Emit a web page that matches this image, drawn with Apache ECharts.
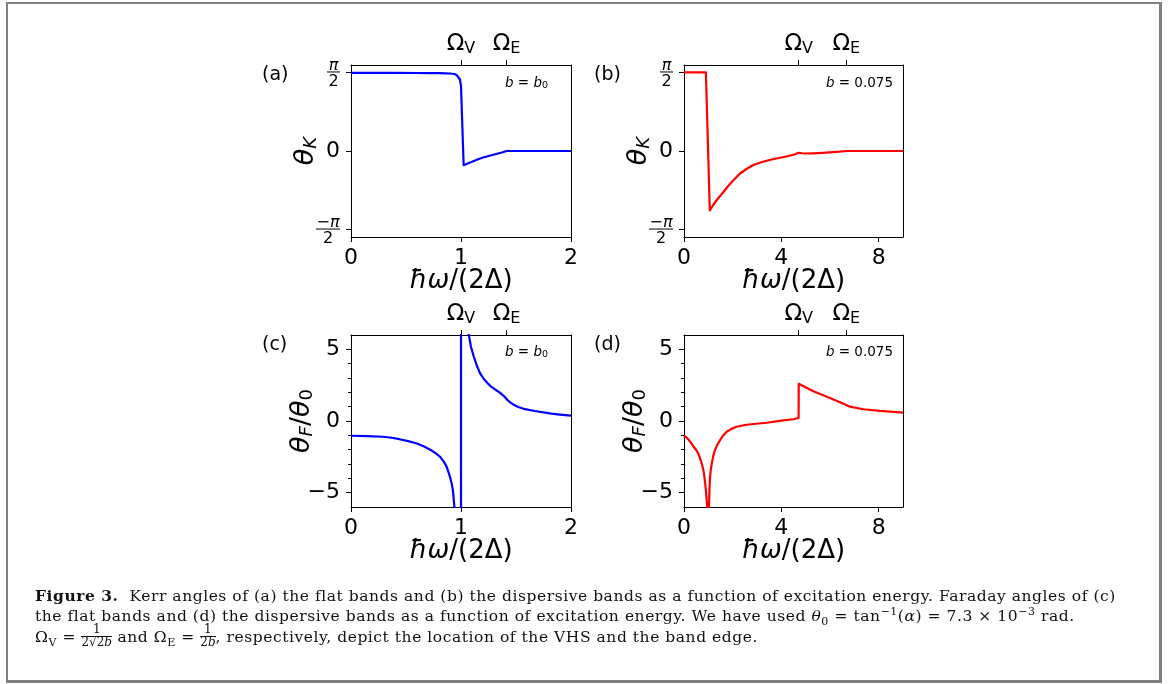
<!DOCTYPE html>
<html>
<head>
<meta charset="utf-8">
<script src="https://cdn.jsdelivr.net/npm/echarts@6/dist/echarts.min.js"></script>
<style>
  html, body { margin: 0; padding: 0; background: #fff; }
  #wrap { position: relative; width: 1174px; height: 684px; overflow: hidden; }
  #chart { position: absolute; left: 0; top: 0; width: 1174px; height: 684px; }
  #frame { position: absolute; left: 6px; top: 2px; width: 1151px; height: 676px;
           border-style: solid; border-color: #808080; border-width: 2px 3px 3px 2px; }
  .cap { position: absolute; left: 35px; white-space: nowrap; color: #111;
         font-family: 'DejaVu Serif', serif; font-size: 15.5px; letter-spacing: 0.55px; line-height: 20px; }
  .frac { display: inline-block; vertical-align: -4px; text-align: center; font-size: 12px; line-height: 11px; letter-spacing: 0; }
  .frac .num { display: block; border-bottom: 1px solid #111; padding: 0 1px 1px; }
  .frac .den { display: block; }
  sub, sup { font-size: 11px; line-height: 0; }
</style>
</head>
<body>
<div id="wrap">
  <div id="chart"></div>
  <div id="frame"></div>
  <div class="cap" style="top:586px"><b>Figure 3.</b>&nbsp;&nbsp;Kerr angles of (a) the flat bands and (b) the dispersive bands as a function of excitation energy. Faraday angles of (c)</div>
  <div class="cap" style="top:606px">the flat bands and (d) the dispersive bands as a function of excitation energy. We have used <i>θ</i><sub>0</sub> = tan<sup>−1</sup>(<i>α</i>) = 7.3 × 10<sup>−3</sup> rad.</div>
  <div class="cap" style="top:624px">Ω<sub>V</sub> = <span class="frac"><span class="num">1</span><span class="den">2√2<i>b</i></span></span> and Ω<sub>E</sub> = <span class="frac"><span class="num">1</span><span class="den">2<i>b</i></span></span>, respectively, depict the location of the VHS and the band edge.</div>
</div>
<script>
const FONT = 'DejaVu Sans';
const HALF_PI = Math.PI / 2;

// (a) Kerr angle, flat bands, b = b0
const aX = [0, 0.2, 0.4, 0.6, 0.7, 0.8, 0.86, 0.9, 0.94, 0.96, 0.975, 0.99, 1.0, 1.024, 1.06, 1.1, 1.15, 1.2, 1.26, 1.32, 1.38, 1.414, 1.6, 1.8, 2.0];
const aY = [1.562, 1.562, 1.561, 1.56, 1.559, 1.557, 1.554, 1.55, 1.54, 1.522, 1.49, 1.43, 1.3, -0.283, -0.25, -0.215, -0.17, -0.13, -0.095, -0.06, -0.025, 0, 0, 0, 0];

// (b) Kerr angle, dispersive bands, b = 0.075
const bX = [0, 0.5, 0.9, 0.975, 1.06, 1.1, 1.2, 1.3, 1.45, 1.62, 1.8, 2.0, 2.3, 2.6, 2.85, 3.2, 3.6, 4.0, 4.3, 4.6, 4.7, 4.73, 4.78, 4.85, 5.0, 5.3, 5.7, 6.1, 6.4, 6.67, 7.5, 9];
const bY = [1.5708, 1.5708, 1.5708, 1.5708, -1.19, -1.15, -1.08, -1.01, -0.92, -0.82, -0.71, -0.6, -0.45, -0.35, -0.28, -0.22, -0.17, -0.13, -0.1, -0.06, -0.035, -0.005, -0.03, -0.045, -0.05, -0.046, -0.037, -0.024, -0.013, 0, 0, 0];

// (c) Faraday angle, flat bands
const cX = [0, 0.15, 0.29, 0.37, 0.44, 0.52, 0.6, 0.66, 0.72, 0.77, 0.81, 0.845, 0.87, 0.9, 0.915, 0.927, 0.94, 0.96, 0.98, 1.0,
            1.0, 1.02, 1.05, 1.07, 1.09, 1.116, 1.147, 1.175, 1.208, 1.24, 1.27, 1.31, 1.35, 1.39, 1.42, 1.45, 1.48, 1.52, 1.57, 1.67, 1.75, 1.82, 1.9, 2.0];
const cY = [-1.03, -1.05, -1.1, -1.17, -1.27, -1.4, -1.57, -1.76, -2.0, -2.25, -2.5, -2.85, -3.2, -3.9, -4.35, -4.86, -6.0, -9, -20, -500,
            500, 30, 10, 6.06, 5.2, 4.5, 3.8, 3.3, 2.93, 2.65, 2.42, 2.2, 2.0, 1.74, 1.48, 1.28, 1.13, 0.98, 0.85, 0.7, 0.6, 0.52, 0.45, 0.37];

// (d) Faraday angle, dispersive bands
const dX = [0, 0.1, 0.2, 0.3, 0.38, 0.5, 0.59, 0.66, 0.73, 0.8, 0.84, 0.87, 0.9, 0.93, 0.96, 1.0,
            1.03, 1.05, 1.07, 1.1, 1.14, 1.2, 1.27, 1.37, 1.48, 1.6, 1.75, 1.95, 2.16, 2.5, 2.85, 3.4, 4.0, 4.49, 4.71,
            4.715, 5.32, 6.0, 6.55, 6.82, 7.37, 8.05, 9.0];
const dY = [-1.03, -1.15, -1.33, -1.55, -1.76, -2.02, -2.28, -2.6, -2.98, -3.45, -3.92, -4.35, -4.86, -5.45, -6.08, -40,
            -5.8, -4.6, -3.92, -3.4, -2.98, -2.45, -2.04, -1.65, -1.34, -1.03, -0.75, -0.55, -0.4, -0.28, -0.21, -0.12, 0.03, 0.12, 0.21,
            2.6, 2.07, 1.6, 1.2, 1.0, 0.82, 0.7, 0.58];

// ticks
const xTicksFlat = [0, 1, 2];
const xTicksDisp = [0, 4, 8];
const kerrTicks = [-HALF_PI, 0, HALF_PI];
const faradayTicks = [-5, 0, 5];
const faradayMinor = [-4, -3, -2, -1, 1, 2, 3, 4];
const omegaFlat = [1, Math.SQRT2];                                 // Ω_V, Ω_E at b = b0
const omegaDisp = [1 / (2 * Math.SQRT2 * 0.075), 1 / (2 * 0.075)]; // b = 0.075

const black = '#000';
const axisLine = { show: true, onZero: false, lineStyle: { color: black, width: 1 } };

const xNameRich = {
  it: { fontFamily: FONT, fontStyle: 'italic', fontSize: 26, color: black },
  rm: { fontFamily: FONT, fontSize: 26, color: black }
};
const yNameRich = {
  it: { fontFamily: FONT, fontStyle: 'italic', fontSize: 27, color: black },
  rm: { fontFamily: FONT, fontSize: 27, color: black },
  si: { fontFamily: FONT, fontStyle: 'italic', fontSize: 18, color: black, padding: [11, 0, 0, 0] },
  sr: { fontFamily: FONT, fontSize: 18, color: black, padding: [11, 0, 0, 0] }
};

const grid = [], xAxis = [], yAxis = [], series = [];

function addPanel(box, p) {
  const g = grid.length;
  grid.push(Object.assign({ outerBoundsMode: 'none', containLabel: false }, box));
  const xi = xAxis.length;
  xAxis.push({
    type: 'value', gridIndex: g, position: 'bottom', min: 0, max: p.xMax,
    axisLine, splitLine: { show: false },
    axisTick: { show: true, length: 5, customValues: p.xTicks, lineStyle: { color: black } },
    axisLabel: { customValues: p.xTicks, fontFamily: FONT, fontSize: 22, color: black, margin: 10 },
    name: '{it|ħω}{rm|/(2Δ)}', nameLocation: 'middle', nameGap: 31, nameMoveOverlap: false,
    nameTextStyle: { rich: xNameRich }
  });
  xAxis.push({
    type: 'value', gridIndex: g, position: 'top', min: 0, max: p.xMax,
    axisLine, splitLine: { show: false },
    axisTick: { show: true, length: 5, customValues: p.omegas, lineStyle: { color: black } },
    axisLabel: {
      customValues: p.omegas, margin: 8,
      formatter: v => Math.abs(v - p.omegas[0]) < 1e-6 ? '{o|Ω}{s|V}' : '{o|Ω}{s|E}',
      rich: {
        o: { fontFamily: FONT, fontSize: 23, color: black },
        s: { fontFamily: FONT, fontSize: 16, color: black, padding: [10, 0, 0, 0] }
      }
    }
  });
  const yi = yAxis.length;
  const kerr = p.kind === 'kerr';
  yAxis.push({
    type: 'value', gridIndex: g, position: 'left', min: p.yMin, max: p.yMax,
    axisLine, splitLine: { show: false },
    axisTick: { show: true, length: 5, customValues: p.yTicks, lineStyle: { color: black } },
    axisLabel: {
      customValues: p.yTicks, margin: 11, fontFamily: FONT, fontSize: 22, color: black,
      formatter: kerr
        ? v => v > 0.1 ? '{n|π}\n{bar| }\n{d|2}' : (v < -0.1 ? '{n|−π}\n{bar2| }\n{d|2}' : '0')
        : v => (v < 0 ? '−' + (-v) : String(v)),
      rich: {
        n: { fontFamily: FONT, fontStyle: 'italic', fontSize: 16, color: black, align: 'center', lineHeight: 15, padding: [7, 0, 0, 0] },
        d: { fontFamily: FONT, fontSize: 16, color: black, align: 'center', lineHeight: 16 },
        bar: { width: 13, height: 1, lineHeight: 4, backgroundColor: black, align: 'center', fontSize: 1 },
        bar2: { width: 24, height: 1, lineHeight: 4, backgroundColor: black, align: 'center', fontSize: 1 }
      }
    },
    name: kerr ? '{it|θ}{si|K}' : '{it|θ}{si|F}{rm|/}{it|θ}{sr|0}',
    nameLocation: 'middle', nameGap: kerr ? 31 : 35, nameMoveOverlap: false,
    nameTextStyle: { rich: yNameRich }
  });
  if (p.yMinor) {
    yAxis.push({
      type: 'value', gridIndex: g, position: 'left', min: p.yMin, max: p.yMax,
      axisLine: { show: false, onZero: false }, splitLine: { show: false },
      axisTick: { show: true, length: 3, customValues: p.yMinor, lineStyle: { color: black } },
      axisLabel: { show: false }
    });
  }
  yAxis.push({
    type: 'value', gridIndex: g, position: 'right', min: p.yMin, max: p.yMax,
    axisLine, splitLine: { show: false }, axisTick: { show: false }, axisLabel: { show: false }
  });
  series.push({
    type: 'line', xAxisIndex: xi, yAxisIndex: yi, clip: true,
    showSymbol: false, symbol: 'none', smooth: false,
    lineStyle: { color: p.color, width: 2.2, join: 'round' },
    data: p.xs.map((x, i) => [x, p.ys[i]])
  });
}

const kerrRange = { yMin: -1.72, yMax: 1.72, yTicks: kerrTicks, kind: 'kerr' };
const farRange = { yMin: -6, yMax: 6, yTicks: faradayTicks, yMinor: faradayMinor, kind: 'faraday' };

addPanel({ left: 351, top: 65, width: 220, height: 172 },
  Object.assign({ xs: aX, ys: aY, color: '#0000ff', xMax: 2, xTicks: xTicksFlat, omegas: omegaFlat }, kerrRange));
addPanel({ left: 684, top: 65, width: 219, height: 172 },
  Object.assign({ xs: bX, ys: bY, color: '#ff0000', xMax: 9, xTicks: xTicksDisp, omegas: omegaDisp }, kerrRange));
addPanel({ left: 351, top: 335, width: 220, height: 172 },
  Object.assign({ xs: cX, ys: cY, color: '#0000ff', xMax: 2, xTicks: xTicksFlat, omegas: omegaFlat }, farRange));
addPanel({ left: 684, top: 335, width: 219, height: 172 },
  Object.assign({ xs: dX, ys: dY, color: '#ff0000', xMax: 9, xTicks: xTicksDisp, omegas: omegaDisp }, farRange));

const annRich = {
  i: { fontFamily: FONT, fontStyle: 'italic', fontSize: 13.5, fill: black },
  r: { fontFamily: FONT, fontSize: 13.5, fill: black },
  s: { fontFamily: FONT, fontSize: 9.5, fill: black, padding: [6, 0, 0, 0] }
};
function txt(x, y, text, align, rich, size) {
  return {
    type: 'text', x, y, silent: true,
    style: { text, align, verticalAlign: 'middle', fontFamily: FONT, fontSize: size || 13.5, fill: black, rich }
  };
}

const graphic = [
  txt(262, 75, '(a)', 'left', null, 19),
  txt(594, 75, '(b)', 'left', null, 19),
  txt(262, 345, '(c)', 'left', null, 19),
  txt(594, 345, '(d)', 'left', null, 19),
  txt(548, 83, '{i|b}{r| = }{i|b}{s|0}', 'right', annRich),
  txt(893, 83, '{i|b}{r| = 0.075}', 'right', annRich),
  txt(548, 352, '{i|b}{r| = }{i|b}{s|0}', 'right', annRich),
  txt(893, 352, '{i|b}{r| = 0.075}', 'right', annRich)
];

const chart = echarts.init(document.getElementById('chart'), null, { renderer: 'canvas' });
chart.setOption({
  animation: false,
  backgroundColor: '#fff',
  grid, xAxis, yAxis, series, graphic
});
</script>
</body>
</html>
